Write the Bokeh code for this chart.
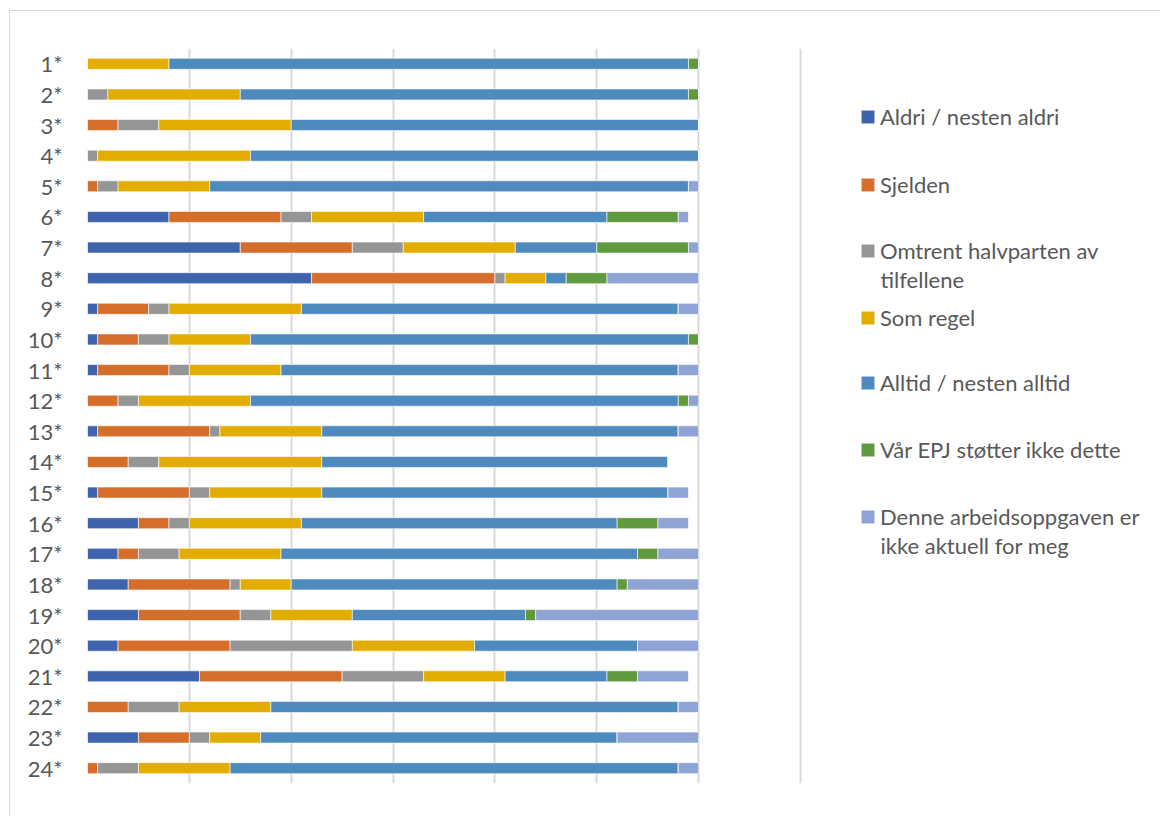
from bokeh.plotting import figure
from bokeh.models import (ColumnDataSource, FactorRange, Range1d, FixedTicker,
                          Legend, LegendItem, Label)
from bokeh.layouts import column
from bokeh.embed import file_html
from bokeh.resources import INLINE

# Task labels (one row per task)
categories = ["1*", "2*", "3*", "4*", "5*", "6*", "7*", "8*", "9*", "10*", "11*", "12*",
              "13*", "14*", "15*", "16*", "17*", "18*", "19*", "20*", "21*", "22*", "23*", "24*"]

# Number of respondents per answer, per task
aldri        = [0, 0, 0, 0, 0, 8, 15, 22, 1, 1, 1, 0, 1, 0, 1, 5, 3, 4, 5, 3, 11, 0, 5, 0]
sjelden      = [0, 0, 3, 0, 1, 11, 11, 18, 5, 4, 7, 3, 11, 4, 9, 3, 2, 10, 10, 11, 14, 4, 5, 1]
omtrent      = [0, 2, 4, 1, 2, 3, 5, 1, 2, 3, 2, 2, 1, 3, 2, 2, 4, 1, 3, 12, 8, 5, 2, 4]
som_regel    = [8, 13, 13, 15, 9, 11, 11, 4, 13, 8, 9, 11, 10, 16, 11, 11, 10, 5, 8, 12, 8, 9, 5, 9]
alltid       = [51, 44, 40, 44, 47, 18, 8, 2, 37, 43, 39, 42, 35, 34, 34, 31, 35, 32, 17, 16, 10, 40, 35, 44]
epj          = [1, 1, 0, 0, 0, 7, 9, 4, 0, 1, 0, 1, 0, 0, 0, 4, 2, 1, 1, 0, 3, 0, 0, 0]
ikke_aktuell = [0, 0, 0, 0, 1, 1, 1, 9, 2, 0, 2, 1, 2, 0, 2, 3, 4, 7, 16, 6, 5, 2, 8, 2]

# Value axis: gridlines every 10 up to 70
grid_ticks = [0, 10, 20, 30, 40, 50, 60, 70]

series_keys = ["aldri", "sjelden", "omtrent", "som_regel", "alltid", "epj", "ikke_aktuell"]
# Legend text: first line next to the swatch, optional second line below it
series_labels = [
    ("Aldri / nesten aldri", None),
    ("Sjelden", None),
    ("Omtrent halvparten av", "tilfellene"),
    ("Som regel", None),
    ("Alltid / nesten alltid", None),
    ("Vår EPJ støtter ikke dette", None),
    ("Denne arbeidsoppgaven er", "ikke aktuell for meg"),
]
series_colors = ["#3f64ad", "#d56e2b", "#959595", "#e3ac00", "#4e8abe", "#609a3f", "#8fa4d4"]

FONT = "Lato"
FONT_SIZE = "22px"
TEXT_COLOR = "#595959"

source = ColumnDataSource(dict(
    cat=categories, aldri=aldri, sjelden=sjelden, omtrent=omtrent,
    som_regel=som_regel, alltid=alltid, epj=epj, ikke_aktuell=ikke_aktuell,
))

# The bar area is 713 px wide for 0..70; the frame continues to the right
# so that the legend block sits inside it.
bar_px = 713
frame_w = 1073
frame_h = 735
x_end = grid_ticks[-1] * frame_w / bar_px

p = figure(
    frame_width=frame_w, frame_height=frame_h,
    y_range=FactorRange(*reversed(categories)),
    x_range=Range1d(0, x_end),
    output_backend="svg", toolbar_location=None,
    min_border_left=77, min_border_top=37, min_border_bottom=33, min_border_right=0,
)

renderers = p.hbar_stack(series_keys, y="cat", height=0.36, source=source,
                         fill_color=series_colors, line_color="white", line_width=0.6)

# Axes and grid
p.xaxis.visible = False
p.xgrid.ticker = FixedTicker(ticks=grid_ticks)
p.xgrid.grid_line_color = "#d9d9d9"
p.xgrid.grid_line_width = 2
p.ygrid.grid_line_color = None
p.outline_line_color = None

p.yaxis.axis_line_color = None
p.yaxis.major_tick_line_color = None
p.yaxis.minor_tick_line_color = None
p.yaxis.major_label_standoff = 19
p.yaxis.major_label_text_font = FONT
p.yaxis.major_label_text_font_size = FONT_SIZE
p.yaxis.major_label_text_color = TEXT_COLOR

# Legend entries to the right of the bars, one block per answer
entry_x = 772            # legend box left, pixels from frame left
entry_rows = [69, 137, 203, 270, 335, 402, 469]   # swatch centre, pixels from frame top
second_line_gap = 28
item_h = 26
swatch = 17
standoff = 4

for (line1, line2), r, row in zip(series_labels, renderers, entry_rows):
    lg = Legend(
        items=[LegendItem(label=line1, renderers=[r])],
        location=(entry_x, frame_h - row - item_h / 2),
        glyph_width=swatch, glyph_height=swatch,
        label_standoff=standoff, label_height=item_h,
        padding=0, margin=0, spacing=0,
        label_text_font=FONT, label_text_font_size=FONT_SIZE, label_text_color=TEXT_COLOR,
        border_line_color=None, background_fill_alpha=0,
    )
    p.add_layout(lg)
    if line2:
        p.add_layout(Label(
            x=entry_x + swatch + standoff, y=frame_h - row - second_line_gap,
            x_units="screen", y_units="screen", text=line2,
            text_font=FONT, text_font_size=FONT_SIZE, text_color=TEXT_COLOR,
            text_baseline="middle", text_align="left",
        ))

layout = column(p, margin=(10, 0, 0, 9),
                styles={"border-left": "1px solid #d9d9d9", "border-top": "1px solid #d9d9d9"})

open("out.html", "w").write(file_html(layout, INLINE))
